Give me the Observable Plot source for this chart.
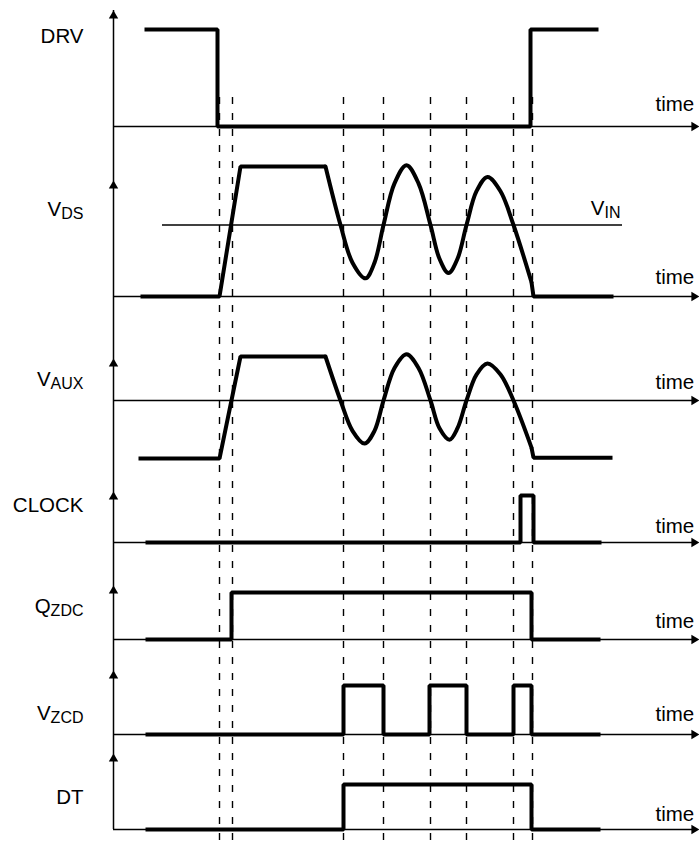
<!DOCTYPE html>
<html><head><meta charset="utf-8">
<script src="https://cdn.jsdelivr.net/npm/d3@7"></script>
<script src="https://cdn.jsdelivr.net/npm/@observablehq/plot@0.6"></script>
<style>html,body{margin:0;padding:0;background:#fff;overflow:hidden}</style>
</head><body><div id="chart"></div>
<script>
// ---------------- data (time in arbitrary units, levels per lane) ----------------
const laneKeys  = ["DRV", "VDS", "VAUX", "CLOCK", "QZDC", "VZCD", "DT"];
const laneMain  = ["DRV", "V", "V", "CLOCK", "Q", "V", "DT"];
const laneSub   = ["", "DS", "AUX", "", "ZDC", "ZCD", ""];
const timeLabel = "time";
const vinMain = "V", vinSub = "IN";
const vinLevel = 55;                       // VIN level on the VDS lane (% of VDS plateau)
const vinSpan = [49, 509];                 // time extent of the VIN reference line
const markerTimes = [106, 119, 230, 270, 317, 353, 400, 419];   // dashed event lines

// digital signals: [time, level 0/1]
const drv   = [[31,1],[104,1],[104,0],[417,0],[417,1],[485,1]];
const clock = [[32,0],[407,0],[407,1],[420,1],[420,0],[488,0]];
const qzdc  = [[32,0],[118,0],[118,1],[418,1],[418,0],[487,0]];
const vzcd  = [[32,0],[230,0],[230,1],[270,1],[270,0],[316,0],[316,1],[353,1],[353,0],
               [400,0],[400,1],[418,1],[418,0],[487,0]];
const dt    = [[32,0],[230,0],[230,1],[418,1],[418,0],[487,0]];

// analog signals: [time, level %]
const vdsRise = [[27,0],[106,0],[127,100],[212,100]];
const vdsRing = [[212,100],[227,55],[239,26],[252,14],[261,26],[270,55],[281,87],[293,101],[305,87],
                 [317,55],[326,29],[335,18],[344,29],[353,55],[363,81],[374,92],[387,81],[400,55],[418,11]];
const vdsFall = [[418,11],[420,0],[500,0]];
const vauxRise = [[25,-132],[106,-132],[127,100],[212,100]];
const vauxRing = [[212,100],[227,0],[239,-69],[251,-98],[261,-69],[270,0],[281,74],[293,105],[305,74],
                  [317,0],[326,-63],[336,-89],[344,-63],[353,0],[363,59],[374,84],[387,59],[400,0],[418,-107]];
const vauxFall = [[418,-107],[420,-130],[499,-130]];

// ---------------- layout (not data) ----------------
const lay = {
  DRV:   {base:126, unit:97,   top:10,  label:42,  time:110},
  VDS:   {base:296, unit:1.3,  top:180, label:215, time:283},
  VAUX:  {base:400, unit:0.44, top:358, label:385, time:388},
  CLOCK: {base:542, unit:47,   top:491, label:511, time:532},
  QZDC:  {base:639, unit:47,   top:585, label:612, time:627},
  VZCD:  {base:734, unit:49,   top:670, label:719, time:720},
  DT:    {base:829, unit:45,   top:753, label:803, time:820}
};
const tEnd = 584, tTip = 586, tLabelEnd = -30, tTime = 542;

function rows(lane, seg, pts) {
  const L = lay[lane];
  return pts.map(([t, v]) => ({key: lane + "-" + seg, t, y: L.base - v * L.unit}));
}
const linear = [
  ...rows("DRV","a",drv), ...rows("CLOCK","a",clock), ...rows("QZDC","a",qzdc),
  ...rows("VZCD","a",vzcd), ...rows("DT","a",dt),
  ...rows("VDS","a",vdsRise), ...rows("VDS","c",vdsFall),
  ...rows("VAUX","a",vauxRise), ...rows("VAUX","c",vauxFall)
];
const curved = [...rows("VDS","b",vdsRing), ...rows("VAUX","b",vauxRing)];

const lanes = laneKeys.map((k, i) => ({key:k, main:laneMain[i], sub:laneSub[i], ...lay[k]}));
const vinY = lay.VDS.base - vinLevel * lay.VDS.unit;

const font = "'Liberation Sans', Arial, Helvetica, sans-serif";

const plot = Plot.plot({
  width: 699, height: 842, margin: 0,
  x: {domain: [-113, 586], range: [0, 699], axis: null},
  y: {domain: [0, 842], range: [0, 842], axis: null},
  style: {background: "#fff", fontFamily: font},
  marks: [
    Plot.ruleX(markerTimes, {x: d => d, y1: 97, y2: 842, stroke: "#000", strokeWidth: 1.4, strokeDasharray: "7,9"}),
    Plot.ruleX([0], {x: d => d, y1: 10, y2: lay.DT.base, stroke: "#000", strokeWidth: 1.5}),
    Plot.ruleY(lanes, {y: "base", x1: 0, x2: tEnd, stroke: "#000", strokeWidth: 1.5}),
    Plot.ruleY([vinY], {y: d => d, x1: vinSpan[0], x2: vinSpan[1], stroke: "#000", strokeWidth: 1.5}),
    Plot.dot(lanes, {x: 0, y: "top", symbol: "triangle", r: 3.5, fill: "#000", stroke: "none", dy: 5.4}),
    Plot.dot(lanes, {x: tTip, y: "base", symbol: "triangle", r: 3.5, fill: "#000", stroke: "none", rotate: 90, dx: -5.4}),
    Plot.line(linear, {x: "t", y: "y", z: "key", stroke: "#000", strokeWidth: 4, strokeLinejoin: "miter", strokeLinecap: "butt"}),
    Plot.line(curved, {x: "t", y: "y", z: "key", stroke: "#000", strokeWidth: 4, curve: "catmull-rom", strokeLinejoin: "round"}),
    Plot.text(lanes, {x: tLabelEnd, y: "label", text: d => d.main + d.sub, textAnchor: "end", lineAnchor: "bottom", fontSize: 20.5, fill: "#000"}),
    Plot.text(lanes, {x: tTime, y: "time", text: () => timeLabel, textAnchor: "start", lineAnchor: "bottom", fontSize: 20.5, fill: "#000"}),
    Plot.text([vinMain + vinSub], {x: 507, y: 214, text: d => d, textAnchor: "end", lineAnchor: "bottom", fontSize: 20.5, fill: "#000"})
  ]
});

// subscripts
const subs = [...lanes.filter(l => l.sub).map(l => ({main:l.main, sub:l.sub})), {main: vinMain, sub: vinSub}];
d3.select(plot).selectAll("text").each(function() {
  const s = subs.find(l => l.main + l.sub === this.textContent);
  if (s) {
    this.textContent = "";
    d3.select(this).append("tspan").text(s.main);
    d3.select(this).append("tspan").attr("font-size", 16).attr("dy", 3).text(s.sub);
  }
});
document.getElementById("chart").appendChild(plot);
</script></body></html>
